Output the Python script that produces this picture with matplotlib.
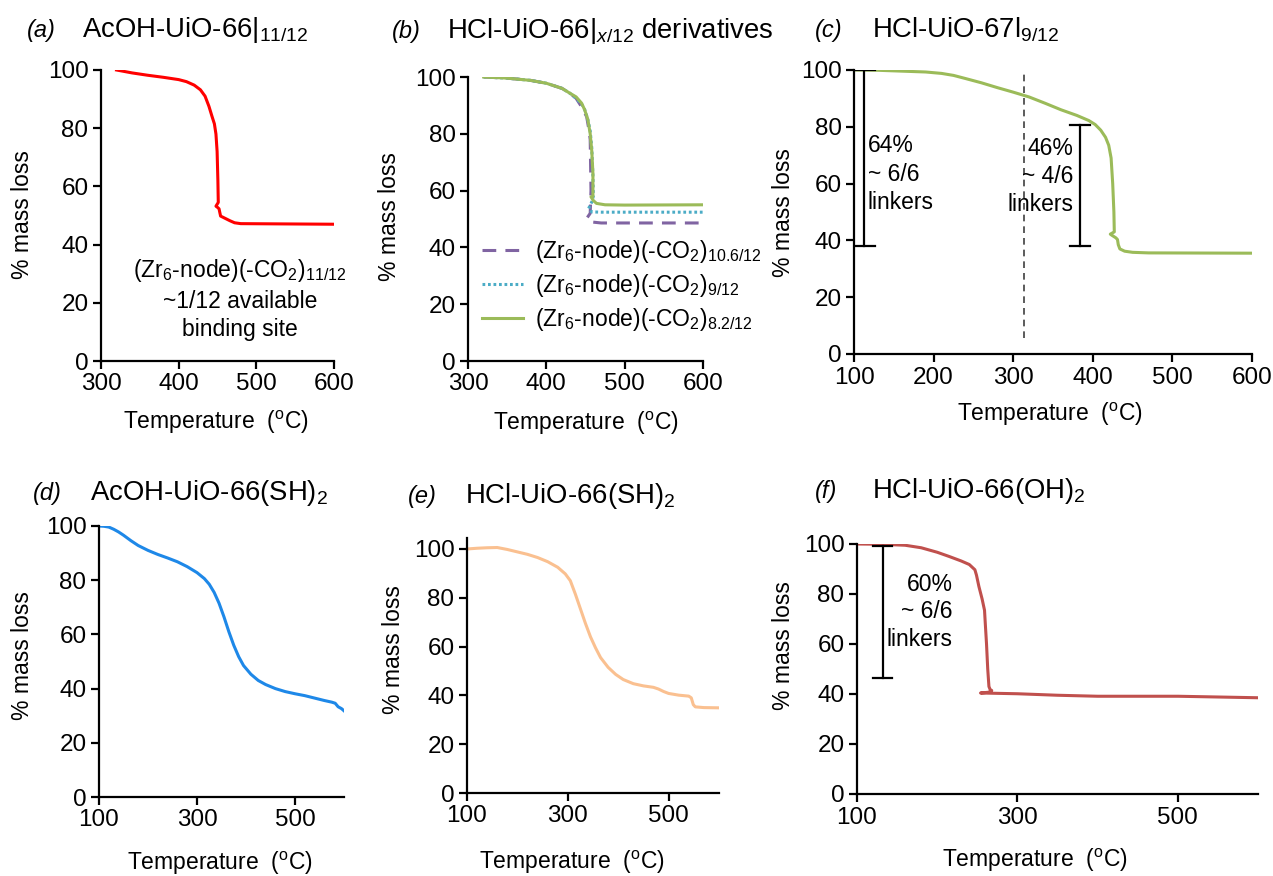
import matplotlib
matplotlib.use('Agg')
import matplotlib.pyplot as plt

plt.rcParams['font.family'] = ['Liberation Sans', 'DejaVu Sans']
plt.rcParams['mathtext.fontset'] = 'custom'
plt.rcParams['mathtext.rm'] = 'Liberation Sans'
plt.rcParams['mathtext.it'] = 'Liberation Sans:italic'
plt.rcParams['mathtext.default'] = 'regular'

# ---------------- data ----------------
# (a) AcOH-UiO-66|11/12
a_T = [320, 340, 360, 380, 400, 410, 420, 428, 434, 439, 443, 446, 448, 449.5, 450.5, 451, 448, 450, 452, 453, 454, 460, 466, 472, 480, 600]
a_m = [100, 99.0, 98.2, 97.5, 96.7, 96.0, 94.8, 93.2, 91.0, 87.5, 84.0, 81.5, 78.0, 72.0, 62.0, 54.5, 53.2, 52.8, 52.3, 51.0, 49.8, 49.0, 48.2, 47.5, 47.2, 47.0]

# (b) HCl-UiO-66|x/12 derivatives
b_T_purple = [320, 350, 380, 400, 420, 430, 438, 445, 451.5, 454, 456, 457, 456, 451.5, 456, 470, 500, 600]
b_m_purple = [100, 99.6, 98.8, 97.8, 96.0, 94.3, 92.5, 89.5, 86.0, 82.0, 78.0, 60.0, 52.0, 50.2, 49.0, 48.6, 48.6, 48.6]
b_T_cyan = [320, 350, 380, 400, 420, 430, 438, 445, 449, 453, 456, 458, 459.5, 460, 458, 454, 458, 470, 500, 600]
b_m_cyan = [100, 99.6, 98.8, 97.8, 96.0, 94.3, 92.5, 90.5, 88.5, 85.0, 81.0, 75.0, 65.0, 58.0, 56.0, 53.7, 52.5, 52.4, 52.4, 52.4]
b_T_green = [320, 350, 380, 400, 420, 430, 438, 445, 449, 453, 456, 458, 459.5, 459.5, 457, 460, 464, 475, 500, 600]
b_m_green = [100, 99.6, 98.8, 97.8, 96.0, 94.3, 93.0, 90.8, 88.4, 85.0, 80.0, 74.0, 66.0, 58.0, 57.8, 56.5, 55.5, 55.0, 54.9, 55.0]

# (c) HCl-UiO-67|9/12
c_T = [100, 130, 160, 190, 210, 225, 240, 260, 280, 300, 320, 340, 360, 380, 395, 403, 410, 416, 420, 423, 425, 426.5, 427, 422, 424, 429, 431, 432, 434, 440, 450, 470, 600]
c_m = [100, 99.9, 99.6, 99.3, 98.8, 98.1, 97.0, 95.5, 93.8, 92.2, 90.5, 88.3, 86.0, 84.0, 82.2, 80.8, 78.8, 76.3, 73.5, 69.0, 60.0, 50.0, 43.0, 42.2, 41.8, 40.9, 40.3, 38.5, 37.0, 36.2, 35.8, 35.6, 35.5]

# (d) AcOH-UiO-66(SH)2
d_T = [100, 110, 120, 130, 140, 150, 165, 180, 200, 220, 240, 260, 280, 300, 315, 325, 335, 345, 355, 365, 375, 385, 395, 410, 425, 440, 460, 480, 500, 520, 540, 560, 575, 582, 588, 595, 600]
d_m = [100, 99.9, 99.6, 98.8, 97.8, 96.6, 94.6, 92.8, 91.0, 89.5, 88.2, 86.8, 85.0, 82.8, 80.6, 78.5, 75.5, 71.5, 66.5, 61.0, 56.0, 51.8, 48.5, 45.3, 43.0, 41.5, 40.0, 38.9, 38.1, 37.4, 36.5, 35.6, 35.0, 34.6, 33.3, 32.6, 31.8]

# (e) HCl-UiO-66(SH)2
e_T = [100, 120, 140, 160, 180, 200, 220, 240, 260, 280, 295, 305, 315, 325, 335, 345, 355, 365, 380, 395, 410, 430, 450, 470, 480, 490, 500, 520, 540, 545, 549, 553, 570, 600]
e_m = [100, 100.3, 100.5, 100.6, 99.8, 98.8, 97.8, 96.5, 94.8, 92.5, 89.8, 87.0, 81.5, 75.5, 69.5, 64.0, 59.5, 55.5, 51.5, 48.6, 46.5, 44.8, 43.9, 43.3, 42.6, 41.6, 40.8, 40.1, 39.7, 39.0, 36.2, 35.3, 35.0, 34.9]

# (f) HCl-UiO-66(OH)2
f_T = [100, 130, 160, 180, 200, 215, 230, 240, 247, 249, 252, 256, 259, 260, 261.5, 263, 264.5, 266, 268, 264, 254, 300, 350, 400, 500, 600]
f_m = [100, 99.9, 99.5, 98.5, 96.7, 95.0, 93.2, 91.8, 89.7, 87.5, 83.0, 78.0, 73.5, 68.0, 60.0, 50.0, 43.0, 41.8, 41.4, 40.7, 40.4, 40.1, 39.5, 39.1, 39.1, 38.5]

# annotation values (mass-loss range markers: x, low, high)
c_bar1 = (113, 38, 100)
c_bar2 = (384, 38, 80.5)
c_vline_T = 313
f_bar = (132, 46.3, 99.3)

W, H = 1273, 876
fig = plt.figure(figsize=(W / 100, H / 100), dpi=100)

TICK_FS = 17.5
LABEL_FS = 16.5
TITLE_FS = 19.8
TAG_FS = 17
ANN_FS = 16.5


def add_ax(l, t, r, b):
    return fig.add_axes([l / W, 1 - b / H, (r - l) / W, (b - t) / H])


def style(ax, box, xlim, xticks, ylim, xl, yl):
    l, t, r, b = box
    for s in ['top', 'right']:
        ax.spines[s].set_visible(False)
    for s in ['left', 'bottom']:
        ax.spines[s].set_linewidth(1.6)
        ax.spines[s].set_color('black')
    ax.set_xlim(*xlim)
    ax.set_ylim(*ylim)
    ax.set_xticks(xticks)
    ax.set_yticks([0, 20, 40, 60, 80, 100])
    ax.tick_params(direction='out', length=6, width=1.6, labelsize=TICK_FS, pad=3, color='black')
    ax.set_xlabel('Temperature  ($^{o}$C)', fontsize=LABEL_FS)
    ax.set_ylabel('% mass loss', fontsize=LABEL_FS)
    ax.xaxis.label.set_va('center')
    ax.xaxis.label.set_ha('center')
    ax.yaxis.label.set_va('center')
    ax.yaxis.label.set_ha('center')
    ax.xaxis.set_label_coords((xl[0] - l) / (r - l), (b - xl[1]) / (b - t))
    ax.yaxis.set_label_coords((yl[0] - l) / (r - l), (b - yl[1]) / (b - t))


def titles(lab, lab_x, title, title_x, base_y):
    fig.text(lab_x / W, 1 - base_y / H, lab, fontsize=TAG_FS, style='italic', va='baseline', ha='left')
    fig.text(title_x / W, 1 - base_y / H, title, fontsize=TITLE_FS, va='baseline', ha='left')


def range_bar(ax, xb, lo, hi, half):
    ax.plot([xb, xb], [lo, hi], color='black', lw=1.6)
    ax.plot([xb - half, xb + half], [lo, lo], color='black', lw=1.6)
    ax.plot([xb - half, xb + half], [hi, hi], color='black', lw=1.6)


LW = 2.2

# (a)
box_a = (101, 70, 334, 361)
ax = add_ax(*box_a)
ax.plot(a_T, a_m, color='#FF0000', lw=LW)
style(ax, box_a, (300, 600), [300, 400, 500, 600], (0, 100), (216, 422), (23, 215))
ax.text(479, 21.3, '(Zr$_6$-node)(-CO$_2$)$_{11/12}$\n~1/12 available\nbinding site',
        fontsize=ANN_FS, ha='center', va='center', linespacing=1.3)
titles('(a)', 27, 'AcOH-UiO-66|$_{11/12}$', 82, 37)

# (b)
box_b = (468, 77, 703, 361)
ax = add_ax(*box_b)
ax.plot(b_T_purple, b_m_purple, color='#8064A2', lw=LW, ls=(0, (4.5, 3)), label='(Zr$_6$-node)(-CO$_2$)$_{10.6/12}$')
ax.plot(b_T_cyan, b_m_cyan, color='#4BACC6', lw=LW, ls=(0, (0.9, 0.9)), label='(Zr$_6$-node)(-CO$_2$)$_{9/12}$')
ax.plot(b_T_green, b_m_green, color='#9BBB59', lw=LW, label='(Zr$_6$-node)(-CO$_2$)$_{8.2/12}$')
style(ax, box_b, (300, 600), [300, 400, 500, 600], (0, 100), (586, 423), (389, 217))
ax.legend(loc='lower left', bbox_to_anchor=(0.06, 0.10), frameon=False, fontsize=LABEL_FS,
          handlelength=1.8, handletextpad=0.5, labelspacing=0.3, borderaxespad=0, borderpad=0)
titles('(b)', 392, 'HCl-UiO-66|$_{\\mathit{x}/12}$ derivatives', 447, 38)

# (c)
box_c = (854, 70, 1252, 354)
ax = add_ax(*box_c)
ax.plot(c_T, c_m, color='#9BBB59', lw=LW)
ax.plot([c_vline_T, c_vline_T], [5.5, 100.5], color='#404040', lw=1.2, ls=(0, (4, 3)))
range_bar(ax, *c_bar1, 13)
range_bar(ax, *c_bar2, 13)
style(ax, box_c, (100, 600), [100, 200, 300, 400, 500, 600], (0, 100), (1050, 414), (783, 213))
ax.text(117, 63.3, '64%\n~ 6/6\nlinkers', fontsize=ANN_FS, ha='left', va='center', linespacing=1.3)
ax.text(376, 62.5, '46%\n~ 4/6\nlinkers', fontsize=ANN_FS, ha='right', va='center', linespacing=1.3)
titles('(c)', 815, 'HCl-UiO-67l$_{9/12}$', 872, 37)

# (d)
box_d = (99, 526, 344, 797)
ax = add_ax(*box_d)
ax.plot(d_T, d_m, color='#1E88E8', lw=LW)
style(ax, box_d, (100, 600), [100, 300, 500], (0, 100), (220, 863), (23, 656))
titles('(d)', 33, 'AcOH-UiO-66(SH)$_2$', 90, 500)

# (e)
box_e = (467, 538, 719, 793)
ax = add_ax(*box_e)
ax.plot(e_T, e_m, color='#FAC090', lw=LW)
style(ax, box_e, (100, 600), [100, 300, 500], (0, 104.5), (572, 862), (393, 650))
titles('(e)', 408, 'HCl-UiO-66(SH)$_2$', 465, 503)

# (f)
box_f = (857, 544, 1258, 794)
ax = add_ax(*box_f)
ax.plot(f_T, f_m, color='#C0504D', lw=LW)
range_bar(ax, *f_bar, 12)
ax.text(219.5, 72.8, '60%\n~ 6/6\nlinkers', fontsize=ANN_FS, ha='right', va='center', linespacing=1.25)
style(ax, box_f, (100, 600), [100, 300, 500], (0, 100), (1035, 860), (783, 646))
titles('(f)', 815, 'HCl-UiO-66(OH)$_2$', 872, 498)

fig.savefig('out.png', dpi=100, facecolor='white')
